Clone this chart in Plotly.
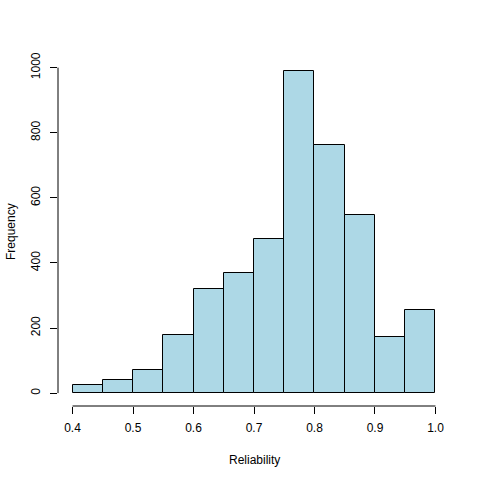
import plotly.graph_objs as go

# histogram bins (Reliability) and counts
bin_edges = [0.40, 0.45, 0.50, 0.55, 0.60, 0.65, 0.70, 0.75, 0.80, 0.85, 0.90, 0.95, 1.00]
counts = [25, 41, 72, 178, 320, 369, 473, 990, 762, 547, 172, 255]

x_ticks = [0.4, 0.5, 0.6, 0.7, 0.8, 0.9, 1.0]
x_labels = ["0.4", "0.5", "0.6", "0.7", "0.8", "0.9", "1.0"]
y_ticks = [0, 200, 400, 600, 800, 1000]

centers = [(a + b) / 2 for a, b in zip(bin_edges[:-1], bin_edges[1:])]
widths = [b - a for a, b in zip(bin_edges[:-1], bin_edges[1:])]

# R style 4% axis padding
x_lo, x_hi = bin_edges[0], bin_edges[-1]
x_pad = (x_hi - x_lo) * 0.04
y_hi = max(counts)
y_pad = y_hi * 0.04

font = dict(family="Liberation Sans, Arial, sans-serif", size=12, color="black")

fig = go.Figure()
fig.add_trace(go.Bar(
    x=centers, y=counts, width=widths,
    marker=dict(color="lightblue", line=dict(color="black", width=1)),
    hoverinfo="x+y",
))

fig.update_layout(
    width=480, height=480,
    margin=dict(l=58, r=30, t=58, b=74),
    plot_bgcolor="white", paper_bgcolor="white",
    showlegend=False,
    font=font,
    bargap=0,
)
fig.update_xaxes(
    range=[x_lo - x_pad, x_hi + x_pad],
    tickvals=x_ticks, ticktext=x_labels,
    ticks="outside", ticklen=7, tickcolor="black", tickwidth=1,
    ticklabelstandoff=4,
    showgrid=False, zeroline=False, showline=False, automargin=False,
)
fig.update_yaxes(
    range=[-y_pad, y_hi + y_pad],
    tickvals=y_ticks, ticktext=[str(v) for v in y_ticks],
    tickangle=-90,
    ticks="outside", ticklen=7, tickcolor="black", tickwidth=1,
    ticklabelstandoff=5,
    showgrid=False, zeroline=False, showline=False, automargin=False,
)

# axis lines only span first to last tick, like base R
fig.add_shape(type="line", xref="x", yref="paper", x0=x_ticks[0], x1=x_ticks[-1], y0=0, y1=0,
              line=dict(color="black", width=1))
fig.add_shape(type="line", xref="paper", yref="y", x0=0, x1=0, y0=y_ticks[0], y1=y_ticks[-1],
              line=dict(color="black", width=1))

# axis titles
fig.add_annotation(text="Reliability", xref="paper", yref="paper", x=0.5, y=0,
                   yshift=-63, showarrow=False, font=font)
fig.add_annotation(text="Frequency", xref="paper", yref="paper", x=0, y=0.5,
                   xshift=-56, textangle=-90, showarrow=False, font=font)

# drop the browser's default body margin so the figure sits at 0,0
fig.write_html("out.html", config={"displayModeBar": False},
               post_script="document.body.style.margin='0';")
